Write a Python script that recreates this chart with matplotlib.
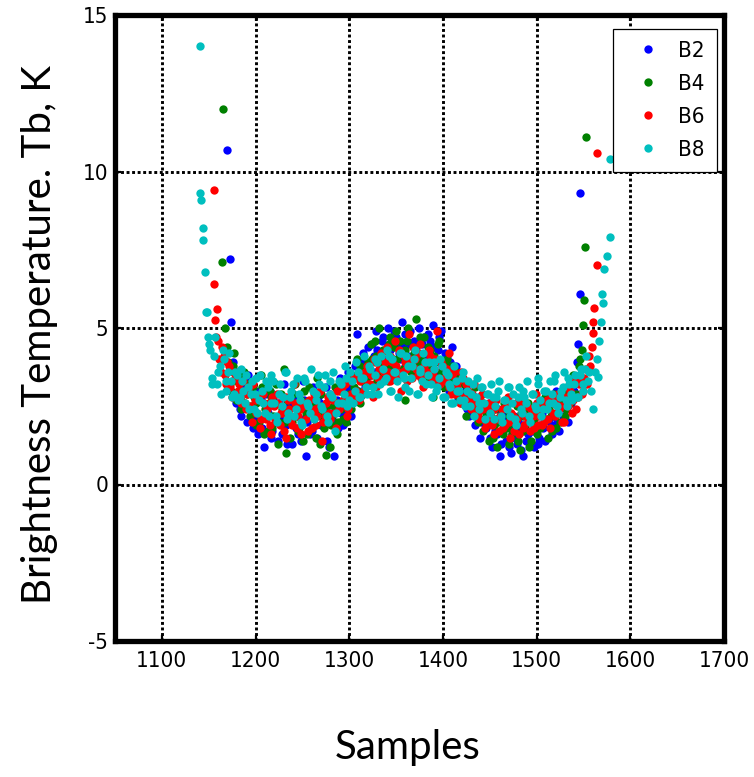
import numpy as np
import matplotlib
matplotlib.use('Agg')
import matplotlib.pyplot as plt
from matplotlib import font_manager

# each band is read every 3 samples from its start, two interleaved passes
# B2
b2_start = 1176
b2_y = [3.9, 2.6, 3.4, 2.2, 3.1, 2.0, 3.3, 1.8, 2.9, 1.6,
        2.7, 1.2, 2.4, 3.0, 1.7, 2.6, 1.4, 2.2, 3.2, 1.9,
        2.5, 1.3, 2.8, 1.6, 2.1, 3.3, 0.9, 2.4, 1.7, 2.9,
        1.5, 2.6, 2.0, 3.1, 1.2, 2.3, 0.9, 2.7, 3.4, 1.9,
        2.9, 3.6, 2.2, 3.4, 4.8, 2.8, 3.9, 3.1, 4.4, 3.5,
        4.1, 4.9, 3.4, 4.6, 3.9, 5.0, 4.3, 3.6, 4.7, 4.2,
        5.2, 3.8, 4.5, 4.9, 3.5, 4.4, 5.0, 4.0, 4.7, 3.7,
        4.6, 5.1, 3.9, 4.3, 4.9, 3.4, 4.1, 3.0, 4.4, 3.6,
        2.7, 3.5, 2.6, 3.1, 2.2, 2.9, 1.9, 2.6, 1.5, 2.4,
        1.8, 2.6, 1.2, 2.1, 1.6, 0.9, 2.3, 1.4, 1.9, 1.0,
        2.2, 1.3, 1.8, 0.9, 2.5, 1.6, 2.0, 1.2, 2.6, 1.5,
        2.3, 1.4, 2.7, 1.9, 2.2, 3.0, 1.7, 2.5, 2.9, 2.0,
        2.8, 3.3]
b2_start2 = 1177
b2_y2 = [2.8, 3.6, 2.4, 3.0, 2.5, 3.5, 2.1, 2.9, 2.2, 3.0,
         1.8, 2.9, 2.3, 1.5, 2.7, 2.0, 2.6, 1.6, 2.4, 1.3,
         2.2, 2.9, 1.8, 2.4, 1.4, 2.7, 2.0, 1.6, 3.1, 2.3,
         2.8, 1.9, 2.4, 1.4, 2.9, 2.1, 2.6, 1.8, 2.3, 3.0,
         2.4, 3.1, 2.7, 3.8, 3.0, 3.5, 4.2, 3.3, 3.7, 4.5,
         3.6, 4.3, 3.9, 4.7, 4.0, 4.4, 3.8, 4.9, 4.5, 4.0,
         4.4, 4.8, 4.1, 3.9, 4.6, 4.2, 3.8, 4.5, 4.1, 4.8,
         4.0, 4.4, 3.6, 4.7, 3.8, 4.2, 3.5, 3.9, 3.2, 3.8,
         3.4, 2.9, 3.3, 2.4, 2.8, 2.5, 2.2, 2.8, 2.0, 2.1,
         2.3, 1.5, 2.0, 1.7, 2.4, 1.3, 1.8, 2.1, 1.2, 1.6,
         1.5, 2.0, 1.1, 1.9, 1.4, 2.2, 1.7, 2.4, 1.3, 1.9,
         1.8, 2.5, 2.1, 1.6, 2.6, 2.0, 2.8, 2.2, 2.4, 3.1,
         2.6, 3.0]
b2_edge_x = [1170, 1173, 1174, 1543, 1544, 1546, 1546]
b2_edge_y = [10.7, 7.2, 5.2, 3.9, 4.5, 6.1, 9.3]

# B4
b4_start = 1170
b4_y = [4.4, 3.2, 3.8, 2.7, 3.4, 2.4, 3.6, 2.9, 2.2, 3.1,
        1.9, 2.8, 3.5, 1.6, 2.3, 3.0, 1.8, 2.6, 1.3, 2.9,
        3.7, 1.0, 2.4, 2.0, 3.2, 1.7, 2.7, 1.4, 2.3, 3.1,
        1.8, 2.6, 3.4, 1.3, 2.1, 0.95, 2.8, 1.9, 2.5, 1.6,
        3.0, 2.1, 2.7, 3.4, 2.4, 3.1, 4.0, 2.6, 3.3, 3.7,
        3.9, 4.5, 3.2, 4.1, 5.0, 3.6, 4.3, 3.3, 4.7, 4.0,
        4.9, 3.5, 4.2, 2.7, 4.6, 3.8, 4.4, 5.3, 3.9, 4.1,
        4.7, 3.4, 4.3, 2.8, 3.9, 4.5, 3.6, 3.1, 4.0, 3.3,
        3.8, 2.9, 3.5, 2.6, 3.2, 2.2, 2.9, 2.4, 3.1, 2.0,
        2.7, 1.7, 2.3, 1.4, 2.6, 1.9, 1.2, 2.2, 1.6, 2.4,
        1.3, 2.0, 1.7, 2.5, 1.1, 2.2, 1.8, 2.6, 1.4, 2.1,
        1.6, 2.4, 1.9, 2.8, 1.5, 2.2, 2.7, 1.8, 2.5, 3.0,
        2.2, 3.1, 2.6, 3.5, 2.9, 3.8]
b4_start2 = 1171
b4_y2 = [3.9, 3.0, 4.2, 3.3, 2.8, 3.6, 2.6, 3.2, 2.5, 2.8,
         2.6, 2.0, 3.1, 2.4, 1.7, 2.8, 2.2, 3.2, 2.0, 2.4,
         2.0, 2.7, 1.5, 2.9, 2.2, 1.8, 2.5, 3.0, 1.6, 2.4,
         2.7, 1.5, 2.3, 2.9, 1.8, 2.5, 1.2, 2.2, 3.1, 2.0,
         2.4, 3.2, 2.0, 2.9, 3.5, 2.7, 3.0, 3.8, 2.9, 3.4,
         3.5, 4.0, 4.6, 3.4, 3.9, 4.3, 3.7, 4.5, 3.8, 4.4,
         4.0, 4.6, 3.7, 4.3, 5.0, 3.6, 4.2, 3.9, 4.7, 3.5,
         3.8, 4.4, 3.7, 4.1, 3.3, 4.6, 3.5, 3.9, 3.2, 3.7,
         3.1, 3.6, 2.8, 3.3, 2.7, 3.0, 2.5, 2.8, 2.3, 2.7,
         2.1, 2.5, 1.9, 2.2, 1.5, 2.4, 2.0, 1.7, 2.6, 1.8,
         2.2, 1.6, 1.9, 1.4, 2.3, 1.7, 2.4, 1.2, 2.0, 1.8,
         2.3, 1.8, 2.6, 2.1, 2.4, 1.7, 2.9, 2.3, 2.0, 2.7,
         2.4, 2.9, 3.2, 2.8, 3.4, 4.0]
b4_edge_x = [1164, 1165, 1167, 1548, 1549, 1551, 1552, 1553]
b4_edge_y = [7.1, 12.0, 5.0, 4.3, 5.1, 5.9, 7.6, 11.1]

# B6
b6_start = 1160
b6_y = [4.6, 3.6, 4.1, 3.2, 3.8, 2.8, 3.4, 3.0, 2.6, 3.3,
        2.4, 3.1, 2.0, 2.7, 2.3, 1.8, 2.9, 2.1, 2.6, 1.6,
        2.5, 2.9, 1.9, 2.3, 1.5, 2.7, 2.1, 3.2, 1.8, 2.4,
        2.0, 2.6, 1.7, 2.3, 2.9, 1.9, 2.5, 1.4, 2.2, 2.8,
        2.1, 2.7, 1.8, 2.4, 3.1, 2.6, 2.2, 3.3, 2.8, 3.0,
        2.7, 3.5, 3.0, 3.8, 3.2, 2.8, 3.9, 3.4, 4.2, 3.6,
        4.4, 3.3, 3.9, 4.6, 3.5, 3.0, 4.1, 3.7, 4.8, 3.4,
        4.0, 3.5, 4.5, 3.1, 3.9, 4.3, 3.3, 3.7, 4.9, 3.2,
        3.8, 3.3, 4.2, 2.9, 3.6, 3.1, 2.6, 3.4, 2.8, 3.0,
        2.4, 3.2, 2.6, 2.1, 2.9, 1.8, 2.5, 2.2, 1.6, 2.7,
        1.7, 2.4, 1.9, 2.8, 1.5, 2.2, 2.6, 1.6, 2.3, 1.9,
        2.5, 1.7, 2.2, 2.9, 1.9, 2.4, 2.0, 2.7, 1.8, 2.6,
        2.2, 2.9, 2.5, 2.0, 3.1, 2.6, 2.3, 3.3, 2.8, 3.4,
        3.0, 3.7, 4.1]
b6_start2 = 1161
b6_y2 = [4.0, 4.4, 3.5, 3.9, 3.1, 3.6, 2.9, 3.2, 2.7, 3.0,
         2.9, 2.5, 3.2, 2.3, 2.8, 2.1, 2.6, 2.4, 1.9, 2.8,
         2.1, 2.6, 2.3, 1.7, 2.8, 2.4, 1.9, 2.6, 2.2, 1.6,
         2.5, 2.1, 2.7, 1.8, 2.4, 2.2, 3.0, 2.0, 2.6, 2.3,
         2.8, 2.3, 3.0, 2.5, 2.7, 3.2, 2.4, 2.9, 3.4, 2.7,
         3.3, 2.9, 3.6, 3.2, 3.5, 4.0, 3.1, 3.7, 3.3, 3.9,
         3.6, 4.1, 3.4, 3.8, 4.3, 3.6, 3.9, 3.3, 4.0, 4.4,
         3.7, 4.2, 3.4, 3.8, 3.6, 4.1, 3.5, 4.0, 3.3, 3.9,
         3.4, 3.7, 3.1, 3.5, 2.9, 3.3, 3.6, 2.8, 3.2, 2.7,
         2.9, 2.6, 2.3, 2.7, 2.4, 2.0, 2.6, 1.9, 2.4, 2.1,
         2.2, 1.8, 2.5, 2.0, 2.3, 1.7, 2.1, 2.6, 1.8, 2.2,
         2.0, 2.4, 1.8, 2.6, 2.2, 1.9, 2.5, 2.1, 2.8, 2.3,
         2.7, 2.4, 2.0, 2.8, 2.5, 3.0, 2.7, 2.4, 3.2, 2.9,
         3.4, 3.2, 3.8]
b6_edge_x = [1156, 1156, 1157, 1158, 1159, 1559, 1560, 1560, 1561, 1564, 1564]
b6_edge_y = [9.4, 6.4, 5.25, 4.7, 5.6, 4.4, 4.85, 5.2, 5.65, 7.0, 10.6]

# B8
b8_start = 1150
b8_y = [4.5, 3.4, 4.1, 3.2, 3.8, 4.3, 3.0, 3.6, 3.3, 2.9,
        3.5, 2.8, 3.3, 2.6, 3.1, 2.9, 2.4, 3.4, 2.7, 3.0,
        2.3, 3.1, 2.6, 3.3, 2.2, 2.9, 2.5, 3.6, 2.1, 2.8,
        3.2, 2.4, 2.9, 2.0, 3.4, 2.6, 2.3, 3.0, 2.7, 3.5,
        2.5, 3.1, 2.2, 3.3, 2.8, 1.7, 2.6, 3.2, 2.9, 3.4,
        2.7, 3.3, 3.0, 3.6, 2.8, 3.4, 3.1, 3.8, 2.9, 3.5,
        3.9, 3.2, 3.7, 3.4, 4.1, 3.0, 3.6, 3.3, 4.2, 3.5,
        3.1, 3.8, 3.4, 4.0, 2.9, 3.6, 3.3, 3.9, 3.5, 3.2,
        3.7, 3.0, 3.4, 3.8, 2.8, 3.5, 3.1, 2.6, 3.3, 3.0,
        3.4, 2.7, 3.0, 2.5, 3.2, 2.8, 2.4, 3.1, 2.6, 2.9,
        2.3, 2.8, 2.5, 3.0, 2.2, 2.7, 2.4, 3.1, 2.6, 2.1,
        2.8, 2.4, 3.0, 2.6, 2.2, 2.9, 2.5, 3.2, 2.7, 2.4,
        3.0, 2.6, 2.9, 3.3, 2.5, 2.8, 3.1, 2.7, 3.4, 2.9,
        3.2, 2.8, 3.5, 3.0, 3.7, 3.3]
b8_start2 = 1151
b8_y2 = [4.3, 3.2, 4.7, 3.6, 2.9, 4.0, 3.3, 4.2, 2.8, 3.6,
         2.7, 3.7, 3.0, 3.5, 2.4, 3.3, 2.9, 2.3, 3.5, 2.6,
         3.3, 2.2, 3.5, 2.6, 2.0, 3.2, 2.8, 3.6, 2.3, 3.0,
         2.2, 3.4, 2.7, 1.9, 3.3, 2.5, 3.7, 2.1, 2.9, 3.2,
         2.4, 3.5, 2.0, 2.9, 3.6, 2.3, 3.3, 2.6, 3.8, 2.5,
         3.6, 2.6, 3.9, 2.8, 3.4, 4.1, 2.9, 3.7, 3.1, 4.0,
         2.9, 4.1, 3.3, 4.3, 3.0, 4.0, 3.6, 2.8, 4.2, 3.4,
         4.1, 3.0, 3.8, 4.3, 2.9, 3.7, 4.2, 3.2, 3.9, 2.8,
         3.9, 3.1, 4.0, 2.8, 3.6, 3.2, 2.6, 3.8, 3.0, 2.7,
         3.6, 2.5, 3.3, 2.9, 2.2, 3.4, 2.6, 3.1, 2.1, 2.9,
         3.2, 2.1, 2.8, 3.3, 2.0, 2.7, 3.1, 2.2, 2.9, 1.9,
         3.1, 2.3, 2.8, 3.3, 2.0, 2.9, 2.4, 3.4, 2.2, 3.0,
         2.4, 3.3, 2.6, 3.5, 2.3, 3.0, 3.6, 2.5, 3.2, 2.7,
         3.5, 2.8, 3.7, 3.2, 4.1, 3.6]
b8_edge_x = [1141, 1141, 1142, 1144, 1144, 1146, 1147, 1148, 1149,
             1558, 1560, 1562, 1564, 1565, 1567, 1569, 1570, 1571,
             1572, 1575, 1578, 1578]
b8_edge_y = [14.0, 9.3, 9.1, 8.2, 7.8, 6.8, 5.5, 5.5, 4.7,
             3.0, 2.4, 3.6, 4.0, 3.45, 4.6, 5.2, 6.1, 5.8,
             6.9, 7.3, 7.9, 10.4]

labels = ['B2', 'B4', 'B6', 'B8']
colors = ['#0000ff', '#008000', '#ff0000', '#00bfbf']
series = [(b2_start, b2_y, b2_start2, b2_y2, b2_edge_x, b2_edge_y),
          (b4_start, b4_y, b4_start2, b4_y2, b4_edge_x, b4_edge_y),
          (b6_start, b6_y, b6_start2, b6_y2, b6_edge_x, b6_edge_y),
          (b8_start, b8_y, b8_start2, b8_y2, b8_edge_x, b8_edge_y)]

plt.rcParams['axes.unicode_minus'] = False

# narrow font for the numbers if one is installed
narrow = None
for f in font_manager.fontManager.ttflist:
    if 'Narrow' in f.name or 'Condensed' in f.name or f.stretch in ('condensed', 'semi-condensed', 'extra-condensed'):
        narrow = font_manager.FontProperties(family=f.name, stretch=f.stretch, size=16)
        break
if narrow is None:
    narrow = font_manager.FontProperties(family='Liberation Sans', size=14)

fig = plt.figure(figsize=(7.54, 7.77), dpi=100)
ax = fig.add_axes([115/754, 1-641/777, 609/754, 626/777])

for i, (s1, y1, s2, y2, ex, ey) in enumerate(series):
    x = np.concatenate([ex, s1 + 3*np.arange(len(y1)), s2 + 3*np.arange(len(y2))])
    y = np.concatenate([ey, y1, y2])
    ax.plot(x, y, linestyle='none', marker='o', ms=6, mew=0,
            color=colors[i], label=labels[i])

ax.set_xlim(1050, 1700)
ax.set_ylim(-5, 15)
ax.set_xticks([1100, 1200, 1300, 1400, 1500, 1600, 1700])
ax.set_yticks([-5, 0, 5, 10, 15])
ax.grid(True, color='black', linestyle=(0, (1, 0.9)), linewidth=2.1)
ax.set_axisbelow(True)
for s in ax.spines.values():
    s.set_linewidth(3.8)
ax.tick_params(direction='in', length=4, width=1.6, top=True, right=True, pad=7)
ax.tick_params(axis='y', pad=5)
for lab in ax.get_xticklabels() + ax.get_yticklabels():
    lab.set_fontproperties(narrow)

leg = ax.legend(loc='upper right', bbox_to_anchor=(0.9885, 0.978),
                borderaxespad=0, numpoints=1, handlelength=2.1,
                handletextpad=0.3, borderpad=0.55, labelspacing=0.58,
                fancybox=False, framealpha=1, edgecolor='black', prop=narrow)
leg.get_frame().set_linewidth(0.9)

fig.text(40/754, 1-335/777, 'Brightness Temperature. Tb, K', rotation=90,
         ha='center', va='center', fontsize=29, family=['Lato', 'DejaVu Sans'])
fig.text(408/754, 1-748/777, 'Samples', ha='center', va='center',
         fontsize=29, family=['Lato', 'DejaVu Sans'])

fig.savefig('out.png', dpi=100)
